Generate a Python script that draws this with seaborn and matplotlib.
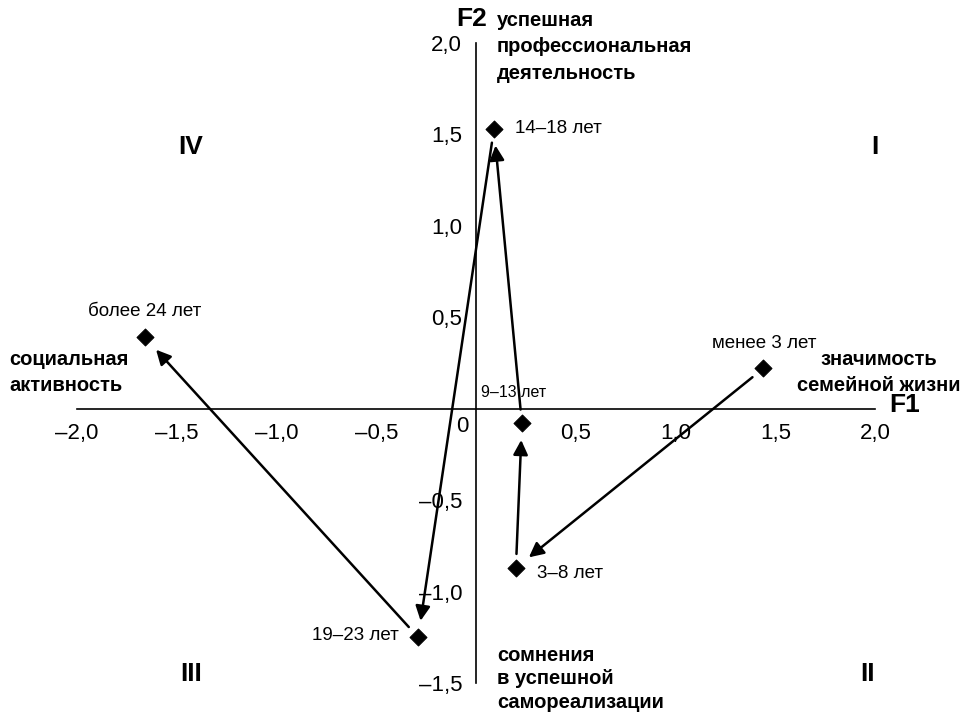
import matplotlib
matplotlib.use("Agg")
import matplotlib.pyplot as plt
import seaborn as sns
import pandas as pd

sns.set_theme(style="white")
plt.rcParams['font.family'] = ['Liberation Sans', 'DejaVu Sans']
plt.rcParams['text.color'] = 'black'
plt.rcParams['xtick.color'] = 'black'
plt.rcParams['ytick.color'] = 'black'

# ---- data ----
labels = ["менее 3 лет", "3–8 лет", "9–13 лет", "14–18 лет", "19–23 лет", "более 24 лет"]
f1 = [1.44, 0.20, 0.23, 0.09, -0.29, -1.66]
f2 = [0.22, -0.87, -0.08, 1.53, -1.25, 0.39]
x_ticks = [-2.0, -1.5, -1.0, -0.5, 0.5, 1.0, 1.5, 2.0]
y_ticks = [-1.5, -1.0, -0.5, 0.5, 1.0, 1.5, 2.0]

df = pd.DataFrame({"F1": f1, "F2": f2, "label": labels})

fig = plt.figure(figsize=(9.66, 7.18), dpi=100)
ax = fig.add_axes([77/966, 1-683/718, (875-77)/966, (683-43)/718])

sns.scatterplot(data=df, x="F1", y="F2", marker="D", s=75, color="black",
                edgecolor="black", ax=ax, zorder=5, clip_on=False)

ax.set_xlim(-2, 2)
ax.set_ylim(-1.5, 2)
ax.spines['left'].set_position(('data', 0))
ax.spines['bottom'].set_position(('data', 0))
ax.spines['right'].set_visible(False)
ax.spines['top'].set_visible(False)
for s in ['left', 'bottom']:
    ax.spines[s].set_color('black')
    ax.spines[s].set_linewidth(1.2)

def fmt(v):
    return ("–" if v < 0 else "") + f"{abs(v):.1f}".replace(".", ",")

ax.set_xticks(x_ticks)
ax.set_xticklabels([fmt(v) for v in x_ticks])
ax.set_yticks(y_ticks)
ax.set_yticklabels([fmt(v) for v in y_ticks])
ax.tick_params(axis='both', direction='out', length=5, width=1.2, color='black',
               labelsize=16, labelcolor='black', pad=5)
ax.set_xlabel("")
ax.set_ylabel("")
ax.text(-0.04, -0.04, "0", ha='right', va='top', fontsize=16)

# arrows (sequence of ages)
order = [0, 1, 2, 3, 4, 5]
for a, b in zip(order[:-1], order[1:]):
    ax.annotate("", xy=(f1[b], f2[b]), xytext=(f1[a], f2[a]),
                arrowprops=dict(arrowstyle='-|>', color='black', lw=1.8,
                                shrinkA=10, shrinkB=12, mutation_scale=22),
                zorder=4)

# point labels
offsets = {
    "менее 3 лет": ((1, 18), 'center', 'center'),
    "3–8 лет": ((15, -4), 'left', 'center'),
    "9–13 лет": ((-6, 22), 'center', 'center'),
    "14–18 лет": ((15, 0), 'left', 'center'),
    "19–23 лет": ((-14, 1), 'right', 'center'),
    "более 24 лет": ((0, 19), 'center', 'center'),
}
for x, y, lab in zip(f1, f2, labels):
    (dx, dy), ha, va = offsets[lab]
    fs = 11.5 if lab == "9–13 лет" else 13.5
    ax.annotate(lab, (x, y), xytext=(dx, dy), textcoords='offset points',
                ha=ha, va=va, fontsize=fs)

# quadrant labels
bold = dict(fontweight='bold', fontsize=19)
ax.text(-1.43, 1.43, "IV", ha='center', va='center', **bold)
ax.text(2.0, 1.43, "I", ha='center', va='center', **bold)
ax.text(-1.43, -1.45, "III", ha='center', va='center', **bold)
ax.text(1.96, -1.45, "II", ha='center', va='center', **bold)

# axis titles
ax.text(0.055, 2.13, "F2", ha='right', va='center', fontweight='bold', fontsize=19,
        clip_on=False)
ax.text(2.07, 0.02, "F1", ha='left', va='center', fontweight='bold', fontsize=19,
        clip_on=False)

desc = dict(fontweight='bold', fontsize=14.5)
ax.text(0.105, 2.175, "успешная\nпрофессиональная\nдеятельность", ha='left', va='top',
        linespacing=1.5, **desc)
ax.text(-2.34, 0.20, "социальная\nактивность", ha='left', va='center', linespacing=1.45, **desc)
ax.text(2.02, 0.20, "значимость\nсемейной жизни", ha='center', va='center', linespacing=1.45, **desc)
ax.text(0.105, -1.295, "сомнения\nв успешной\nсамореализации", ha='left', va='top',
        linespacing=1.3, **desc)

fig.savefig("out.png", dpi=100)
